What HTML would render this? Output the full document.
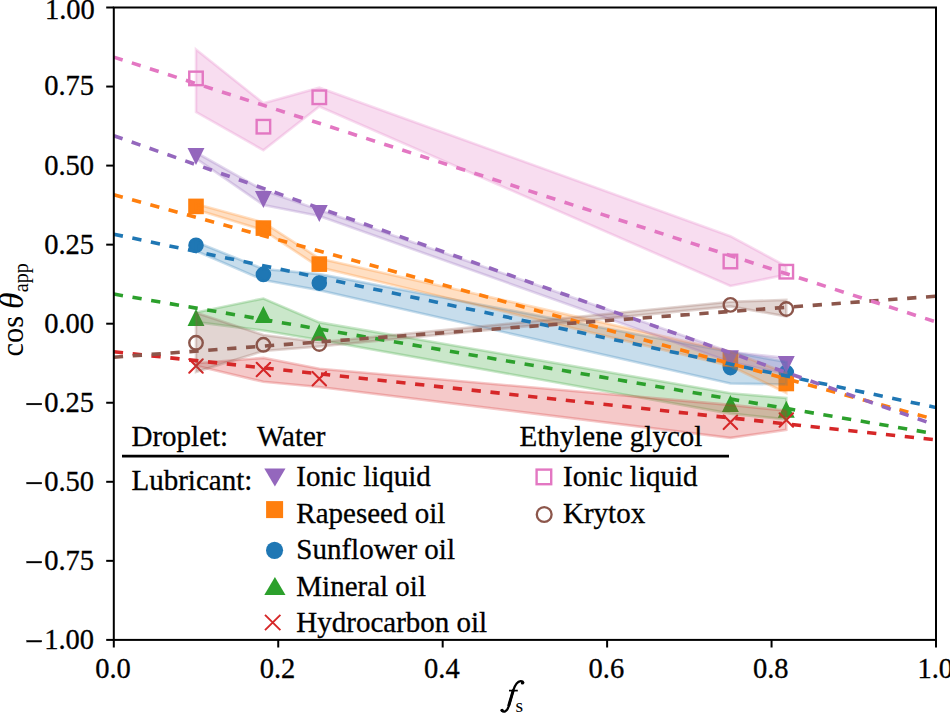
<!DOCTYPE html><html><head><meta charset="utf-8"><style>html,body{margin:0;padding:0;background:#fff;}svg{display:block;}</style></head><body><svg width="950" height="713" viewBox="0 0 950 713">
<rect width="950" height="713" fill="#ffffff"/>
<defs><clipPath id="ax"><rect x="113.8" y="7.5" width="822.2" height="632.4"/></clipPath></defs>
<g clip-path="url(#ax)">
<circle cx="196.00" cy="245.30" r="6.75" fill="#1f77b4" stroke="#1f77b4" stroke-width="2.1"/>
<circle cx="263.40" cy="274.40" r="6.75" fill="#1f77b4" stroke="#1f77b4" stroke-width="2.1"/>
<circle cx="319.30" cy="283.10" r="6.75" fill="#1f77b4" stroke="#1f77b4" stroke-width="2.1"/>
<circle cx="730.40" cy="367.60" r="6.75" fill="#1f77b4" stroke="#1f77b4" stroke-width="2.1"/>
<circle cx="786.30" cy="372.40" r="6.75" fill="#1f77b4" stroke="#1f77b4" stroke-width="2.1"/>
<rect x="189.25" y="199.65" width="13.50" height="13.50" fill="#ff7f0e" stroke="#ff7f0e" stroke-width="2.1" stroke-linejoin="miter"/>
<rect x="256.65" y="221.35" width="13.50" height="13.50" fill="#ff7f0e" stroke="#ff7f0e" stroke-width="2.1" stroke-linejoin="miter"/>
<rect x="312.55" y="257.35" width="13.50" height="13.50" fill="#ff7f0e" stroke="#ff7f0e" stroke-width="2.1" stroke-linejoin="miter"/>
<rect x="723.65" y="352.05" width="13.50" height="13.50" fill="#ff7f0e" stroke="#ff7f0e" stroke-width="2.1" stroke-linejoin="miter"/>
<rect x="779.55" y="376.75" width="13.50" height="13.50" fill="#ff7f0e" stroke="#ff7f0e" stroke-width="2.1" stroke-linejoin="miter"/>
<polygon points="189.25,324.95 202.75,324.95 196.00,311.45" fill="#2ca02c" stroke="#2ca02c" stroke-width="2.1" stroke-linejoin="miter" stroke-miterlimit="10"/>
<polygon points="256.65,321.95 270.15,321.95 263.40,308.45" fill="#2ca02c" stroke="#2ca02c" stroke-width="2.1" stroke-linejoin="miter" stroke-miterlimit="10"/>
<polygon points="312.55,339.65 326.05,339.65 319.30,326.15" fill="#2ca02c" stroke="#2ca02c" stroke-width="2.1" stroke-linejoin="miter" stroke-miterlimit="10"/>
<polygon points="723.65,410.95 737.15,410.95 730.40,397.45" fill="#2ca02c" stroke="#2ca02c" stroke-width="2.1" stroke-linejoin="miter" stroke-miterlimit="10"/>
<polygon points="779.55,416.65 793.05,416.65 786.30,403.15" fill="#2ca02c" stroke="#2ca02c" stroke-width="2.1" stroke-linejoin="miter" stroke-miterlimit="10"/>
<path d="M189.25,359.25L202.75,372.75M189.25,372.75L202.75,359.25" stroke="#d62728" stroke-width="2.1" stroke-linecap="round" fill="none"/>
<path d="M256.65,362.75L270.15,376.25M256.65,376.25L270.15,362.75" stroke="#d62728" stroke-width="2.1" stroke-linecap="round" fill="none"/>
<path d="M312.55,371.95L326.05,385.45M312.55,385.45L326.05,371.95" stroke="#d62728" stroke-width="2.1" stroke-linecap="round" fill="none"/>
<path d="M723.65,415.55L737.15,429.05M723.65,429.05L737.15,415.55" stroke="#d62728" stroke-width="2.1" stroke-linecap="round" fill="none"/>
<path d="M779.55,413.25L793.05,426.75M779.55,426.75L793.05,413.25" stroke="#d62728" stroke-width="2.1" stroke-linecap="round" fill="none"/>
<polygon points="189.25,149.15 202.75,149.15 196.00,162.65" fill="#9467bd" stroke="#9467bd" stroke-width="2.1" stroke-linejoin="miter" stroke-miterlimit="10"/>
<polygon points="256.65,192.15 270.15,192.15 263.40,205.65" fill="#9467bd" stroke="#9467bd" stroke-width="2.1" stroke-linejoin="miter" stroke-miterlimit="10"/>
<polygon points="312.55,206.05 326.05,206.05 319.30,219.55" fill="#9467bd" stroke="#9467bd" stroke-width="2.1" stroke-linejoin="miter" stroke-miterlimit="10"/>
<polygon points="723.65,351.35 737.15,351.35 730.40,364.85" fill="#9467bd" stroke="#9467bd" stroke-width="2.1" stroke-linejoin="miter" stroke-miterlimit="10"/>
<polygon points="779.55,357.15 793.05,357.15 786.30,370.65" fill="#9467bd" stroke="#9467bd" stroke-width="2.1" stroke-linejoin="miter" stroke-miterlimit="10"/>
<circle cx="196.00" cy="342.80" r="6.75" fill="none" stroke="#8c564b" stroke-width="2.4"/>
<circle cx="263.40" cy="344.80" r="6.75" fill="none" stroke="#8c564b" stroke-width="2.4"/>
<circle cx="319.30" cy="344.00" r="6.75" fill="none" stroke="#8c564b" stroke-width="2.4"/>
<circle cx="730.40" cy="304.90" r="6.75" fill="none" stroke="#8c564b" stroke-width="2.4"/>
<circle cx="786.30" cy="309.00" r="6.75" fill="none" stroke="#8c564b" stroke-width="2.4"/>
<rect x="189.25" y="71.65" width="13.50" height="13.50" fill="none" stroke="#e377c2" stroke-width="2.4" stroke-linejoin="miter"/>
<rect x="256.65" y="119.95" width="13.50" height="13.50" fill="none" stroke="#e377c2" stroke-width="2.4" stroke-linejoin="miter"/>
<rect x="312.55" y="90.55" width="13.50" height="13.50" fill="none" stroke="#e377c2" stroke-width="2.4" stroke-linejoin="miter"/>
<rect x="723.65" y="254.75" width="13.50" height="13.50" fill="none" stroke="#e377c2" stroke-width="2.4" stroke-linejoin="miter"/>
<rect x="779.55" y="264.95" width="13.50" height="13.50" fill="none" stroke="#e377c2" stroke-width="2.4" stroke-linejoin="miter"/>
<polygon points="196.00,242.00 263.40,269.00 319.30,274.10 730.40,352.00 786.30,362.00 786.30,384.50 730.40,383.50 319.30,290.30 263.40,280.00 196.00,251.00" fill="#1f77b4" fill-opacity="0.25" stroke="#1f77b4" stroke-opacity="0.25" stroke-width="2.6"/>
<polygon points="196.00,204.00 263.40,222.50 319.30,258.50 730.40,351.50 786.30,373.00 786.30,393.00 730.40,366.00 319.30,267.20 263.40,230.20 196.00,209.50" fill="#ff7f0e" fill-opacity="0.25" stroke="#ff7f0e" stroke-opacity="0.25" stroke-width="2.6"/>
<polygon points="196.00,312.50 263.40,298.50 319.30,322.40 730.40,393.30 786.30,398.00 786.30,419.40 730.40,413.60 319.30,340.00 263.40,330.50 196.00,322.00" fill="#2ca02c" fill-opacity="0.25" stroke="#2ca02c" stroke-opacity="0.25" stroke-width="2.6"/>
<polygon points="196.00,363.20 263.40,357.90 319.30,368.70 730.40,404.90 786.30,410.70 786.30,429.80 730.40,437.90 319.30,387.00 263.40,381.80 196.00,365.80" fill="#d62728" fill-opacity="0.25" stroke="#d62728" stroke-opacity="0.25" stroke-width="2.6"/>
<polygon points="196.00,152.50 263.40,190.30 319.30,210.00 730.40,352.00 786.30,358.00 786.30,374.00 730.40,362.00 319.30,216.00 263.40,205.00 196.00,158.50" fill="#9467bd" fill-opacity="0.25" stroke="#9467bd" stroke-opacity="0.25" stroke-width="2.6"/>
<polygon points="196.00,312.70 263.40,335.00 319.30,342.30 730.40,301.80 786.30,299.90 786.30,316.40 730.40,306.40 319.30,346.50 263.40,351.00 196.00,372.00" fill="#8c564b" fill-opacity="0.25" stroke="#8c564b" stroke-opacity="0.25" stroke-width="2.6"/>
<polygon points="196.00,49.50 263.40,103.20 319.30,87.70 730.40,236.20 786.30,266.30 786.30,274.80 730.40,286.00 319.30,106.60 263.40,150.30 196.00,112.10" fill="#e377c2" fill-opacity="0.25" stroke="#e377c2" stroke-opacity="0.25" stroke-width="2.6"/>
<line x1="113.80" y1="234.20" x2="936.00" y2="407.50" stroke="#1f77b4" stroke-width="3.6" stroke-dasharray="9.3 9.64"/>
<line x1="113.80" y1="194.80" x2="936.00" y2="419.70" stroke="#ff7f0e" stroke-width="3.6" stroke-dasharray="9.3 9.64"/>
<line x1="113.80" y1="294.10" x2="936.00" y2="433.90" stroke="#2ca02c" stroke-width="3.6" stroke-dasharray="9.3 9.64"/>
<line x1="113.80" y1="351.80" x2="936.00" y2="439.90" stroke="#d62728" stroke-width="3.6" stroke-dasharray="9.3 9.64"/>
<line x1="113.80" y1="135.70" x2="936.00" y2="425.20" stroke="#9467bd" stroke-width="3.6" stroke-dasharray="9.3 9.64"/>
<line x1="113.80" y1="357.20" x2="936.00" y2="296.20" stroke="#8c564b" stroke-width="3.6" stroke-dasharray="9.3 9.64"/>
<line x1="113.80" y1="57.10" x2="936.00" y2="321.90" stroke="#e377c2" stroke-width="3.6" stroke-dasharray="9.3 9.64"/>
</g>
<g font-family="Liberation Serif, serif" font-size="29" fill="#000" stroke="#000" stroke-width="0.3">
<text x="131.5" y="445.6">Droplet:</text>
<text x="257" y="445.6">Water</text>
<text x="519.5" y="445.6">Ethylene glycol</text>
<line x1="122" y1="456.1" x2="729" y2="456.1" stroke="#000" stroke-width="2.6"/>
<text x="131.5" y="490">Lubricant:</text>
<text x="296.3" y="486.10">Ionic liquid</text>
<text x="296.3" y="522.60">Rapeseed oil</text>
<text x="296.3" y="559.10">Sunflower oil</text>
<text x="296.3" y="595.60">Mineral oil</text>
<text x="296.3" y="632.10">Hydrocarbon oil</text>
<text x="563" y="486.1">Ionic liquid</text>
<text x="563" y="522.6">Krytox</text>
</g>
<polygon points="264.3,468.6 285.5,468.6 274.9,486.4" fill="#9467bd"/>
<rect x="266.1" y="501.1" width="17" height="17" fill="#ff7f0e"/>
<circle cx="274.55" cy="550.35" r="8.55" fill="#1f77b4"/>
<polygon points="264.3,594.9 285.5,594.9 274.9,577.1" fill="#2ca02c"/>
<path d="M265,614.8L280.4,630.2M265,630.2L280.4,614.8" stroke="#d62728" stroke-width="1.9" fill="none"/>
<rect x="536.6" y="469.6" width="14.6" height="14.6" fill="none" stroke="#e377c2" stroke-width="2.4"/>
<circle cx="544.2" cy="514.5" r="7.4" fill="none" stroke="#8c564b" stroke-width="2.3"/>
<rect x="113.8" y="7.5" width="822.2" height="632.4" fill="none" stroke="#000" stroke-width="2.0"/>
<line x1="106.20" y1="7.50" x2="113.80" y2="7.50" stroke="#000" stroke-width="2.0"/>
<line x1="106.20" y1="86.55" x2="113.80" y2="86.55" stroke="#000" stroke-width="2.0"/>
<line x1="106.20" y1="165.60" x2="113.80" y2="165.60" stroke="#000" stroke-width="2.0"/>
<line x1="106.20" y1="244.65" x2="113.80" y2="244.65" stroke="#000" stroke-width="2.0"/>
<line x1="106.20" y1="323.70" x2="113.80" y2="323.70" stroke="#000" stroke-width="2.0"/>
<line x1="106.20" y1="402.75" x2="113.80" y2="402.75" stroke="#000" stroke-width="2.0"/>
<line x1="106.20" y1="481.80" x2="113.80" y2="481.80" stroke="#000" stroke-width="2.0"/>
<line x1="106.20" y1="560.85" x2="113.80" y2="560.85" stroke="#000" stroke-width="2.0"/>
<line x1="106.20" y1="639.90" x2="113.80" y2="639.90" stroke="#000" stroke-width="2.0"/>
<line x1="113.80" y1="639.90" x2="113.80" y2="647.50" stroke="#000" stroke-width="2.0"/>
<line x1="278.24" y1="639.90" x2="278.24" y2="647.50" stroke="#000" stroke-width="2.0"/>
<line x1="442.68" y1="639.90" x2="442.68" y2="647.50" stroke="#000" stroke-width="2.0"/>
<line x1="607.12" y1="639.90" x2="607.12" y2="647.50" stroke="#000" stroke-width="2.0"/>
<line x1="771.56" y1="639.90" x2="771.56" y2="647.50" stroke="#000" stroke-width="2.0"/>
<line x1="936.00" y1="639.90" x2="936.00" y2="647.50" stroke="#000" stroke-width="2.0"/>
<g font-family="Liberation Serif, serif" font-size="28.5" fill="#000" stroke="#000" stroke-width="0.3">
<text x="94.80" y="19.30" text-anchor="end">1.00</text>
<text x="94.00" y="95.45" text-anchor="end">0.75</text>
<text x="94.00" y="174.50" text-anchor="end">0.50</text>
<text x="94.00" y="253.55" text-anchor="end">0.25</text>
<text x="94.00" y="332.60" text-anchor="end">0.00</text>
<text x="94.0" y="411.65" text-anchor="end">0.25</text>
<rect x="26.7" y="403.20" width="15.1" height="1.7"/>
<text x="94.0" y="490.70" text-anchor="end">0.50</text>
<rect x="26.7" y="482.25" width="15.1" height="1.7"/>
<text x="94.0" y="569.75" text-anchor="end">0.75</text>
<rect x="26.7" y="561.30" width="15.1" height="1.7"/>
<text x="94.0" y="648.80" text-anchor="end">1.00</text>
<rect x="26.7" y="640.35" width="15.1" height="1.7"/>
<text x="113.00" y="678" text-anchor="middle">0.0</text>
<text x="277.44" y="678" text-anchor="middle">0.2</text>
<text x="441.88" y="678" text-anchor="middle">0.4</text>
<text x="606.32" y="678" text-anchor="middle">0.6</text>
<text x="770.76" y="678" text-anchor="middle">0.8</text>
<text x="935.20" y="678" text-anchor="middle">1.0</text>
</g>
<g fill="#000">
<path d="M501.6,710.2 C503.5,712.6 506.8,712.2 508.6,706.5 L513.2,690.5 C515.2,684.3 517.5,681.3 520.6,681.1 C522,681 523,681.6 523.3,682.6" fill="none" stroke="#000" stroke-width="2.3" stroke-linecap="round"/>
<path d="M508.9,705.2 L513.1,690.8" stroke="#000" stroke-width="3.0" stroke-linecap="round"/>
<circle cx="522.4" cy="682.9" r="1.6"/><circle cx="502.2" cy="710.4" r="1.6"/>
<line x1="509" y1="690.6" x2="517.8" y2="690.6" stroke="#000" stroke-width="1.7"/>
<text x="515.6" y="712" font-family="Liberation Serif, serif" font-size="19.5">s</text>
<g font-family="Liberation Serif, serif" transform="translate(23.4,356.6) rotate(-90)"><text x="0" y="0" font-size="30.5">cos</text><text x="47.5" y="0" font-size="33.5" font-style="italic">θ</text><text x="64.4" y="4.2" font-size="20.2">app</text></g>
</g>
</svg></body></html>
